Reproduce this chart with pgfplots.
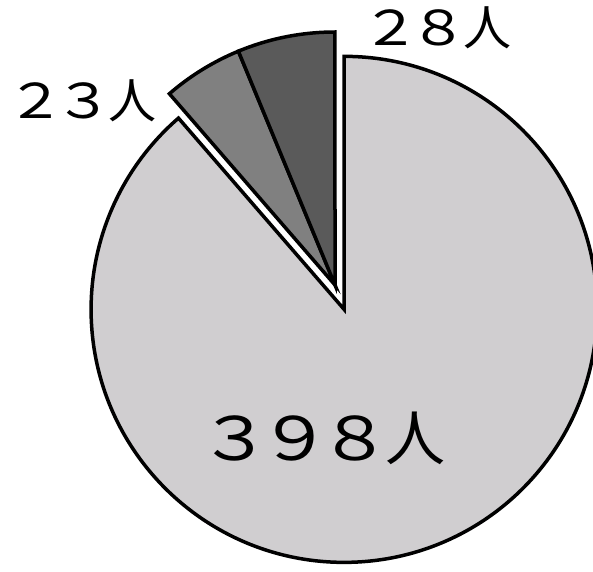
\documentclass[border=0pt]{standalone}
\usepackage{fontspec}
\setmainfont{Noto Sans CJK JP}
\usepackage{graphicx}
\usepackage{pgfplots}
\usepackage{pgfplotstable}
\pgfplotsset{compat=1.18}
\definecolor{sliceA}{RGB}{208,206,208}
\definecolor{sliceB}{RGB}{128,128,128}
\definecolor{sliceC}{RGB}{90,90,90}
% wider full-width digits, kept on a 1em grid
\newcommand\wdg[1]{\makebox[1em]{\scalebox{1.22}[1]{#1}}}

% people per group, drawn clockwise from 12 o'clock
\pgfplotstableread{
count
398
23
28
}\piedata

\begin{document}
\begin{tikzpicture}
\pgfplotstablegetelem{0}{count}\of\piedata \let\va\pgfplotsretval
\pgfplotstablegetelem{1}{count}\of\piedata \let\vb\pgfplotsretval
\pgfplotstablegetelem{2}{count}\of\piedata \let\vc\pgfplotsretval
\pgfmathsetmacro\total{\va+\vb+\vc}
\pgfmathsetmacro\aA{90}
\pgfmathsetmacro\aB{\aA-360*(\va/\total)}
\pgfmathsetmacro\aC{\aB-360*(\vb/\total)}
\pgfmathsetmacro\aD{\aC-360*(\vc/\total)}
\pgfmathsetmacro\amid{(\aA+\aB)/2}
\def\cx{335}\def\cy{286}\def\R{253}
% the big slice is pulled out along its bisector
\pgfmathsetmacro\ex{\cx+26*cos(\amid)}
\pgfmathsetmacro\ey{\cy+26*sin(\amid)}
\path[use as bounding box] (0,0) rectangle (593pt,571pt);
\clip (0,0) rectangle (593pt,571pt);
\begin{axis}[
    hide axis,
    scale only axis,
    width=593pt, height=571pt,
    xmin=0, xmax=593, ymin=0, ymax=571,
    at={(0,0)}, anchor=origin,
    ]
\fill[sliceA, draw=black, line width=3.5pt]
    (axis cs:\ex,\ey) -- ++(\aA:\R pt) arc[start angle=\aA, end angle=\aB, radius=\R pt] -- cycle;
\fill[sliceB, draw=black, line width=3.5pt]
    (axis cs:\cx,\cy) -- ++(\aB:\R pt) arc[start angle=\aB, end angle=\aC, radius=\R pt] -- cycle;
\fill[sliceC, draw=black, line width=3.5pt]
    (axis cs:\cx,\cy) -- ++(\aC:\R pt) arc[start angle=\aC, end angle=\aD, radius=\R pt] -- cycle;
\node[font=\fontsize{60}{60}\selectfont] at (axis cs:325,133) {\wdg{３}\wdg{９}\wdg{８}人};
\node[font=\fontsize{48}{48}\selectfont] at (axis cs:84,470) {\wdg{２}\wdg{３}人};
\node[font=\fontsize{48}{48}\selectfont] at (axis cs:439,543) {\wdg{２}\wdg{８}人};
\end{axis}
\end{tikzpicture}
\end{document}
